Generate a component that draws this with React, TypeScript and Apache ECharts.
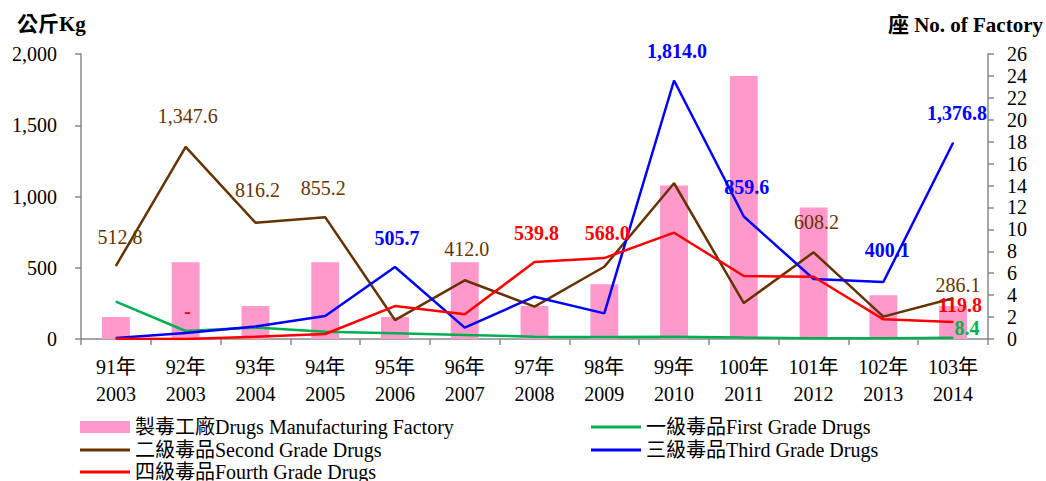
import React, { useEffect, useRef } from "react";
import * as echarts from "echarts";

const categories = ["91年\n2003", "92年\n2003", "93年\n2004", "94年\n2005", "95年\n2006", "96年\n2007", "97年\n2008", "98年\n2009", "99年\n2010", "100年\n2011", "101年\n2012", "102年\n2013", "103年\n2014"];
const factories = [2, 7, 3, 7, 2, 7, 3, 5, 14, 24, 12, 4, 3];
const firstGrade = [262, 56, 80, 51, 40, 28, 16, 14, 15, 10, 6, 5, 8.4];
const secondGrade = [512.8, 1347.6, 816.2, 855.2, 133, 412.0, 227, 507, 1093, 252, 608.2, 157, 286.1];
const thirdGrade = [7, 42, 87, 161, 505.7, 80, 297, 180, 1814.0, 859.6, 421, 400.1, 1376.8];
const fourthGrade = [1, 0, 16, 35, 231, 173, 539.8, 568.0, 746, 442, 437, 138, 119.8];

const leftTicks = { min: 0, max: 2000, interval: 500 };
const rightTicks = { min: 0, max: 26, interval: 2 };

const names = {
  bar: "製毒工廠Drugs Manufacturing Factory",
  first: "一級毒品First Grade Drugs",
  second: "二級毒品Second Grade Drugs",
  third: "三級毒品Third Grade Drugs",
  fourth: "四級毒品Fourth Grade Drugs",
};

const FONT = '"Liberation Serif", "Times New Roman", "Noto Sans CJK TC", serif';

const fmt = (v: number) =>
  v === 0 ? "-" : v.toLocaleString("en-US", { minimumFractionDigits: 1, maximumFractionDigits: 1 });

// label placements (index -> offset of label centre from point)
const secondLabels: Record<number, number[]> = { 0: [4, -29], 1: [2, -31], 2: [2, -33], 3: [-2, -29], 5: [2, -31], 10: [3, -30], 12: [5, -13] };
const thirdLabels: Record<number, number[]> = { 4: [2, -29], 8: [3, -30], 9: [3, -30], 11: [4, -32], 12: [4, -30] };
const fourthLabels: Record<number, number[]> = { 1: [2, -28], 6: [2, -29], 7: [3, -25], 12: [7, -17] };
const firstLabels: Record<number, number[]> = { 12: [14, -10] };

function buildData(values: number[], labels: Record<number, number[]>, color: string, bold: boolean) {
  return values.map((v, i) => {
    const off = labels[i];
    if (!off) return { value: v };
    return {
      value: v,
      label: {
        show: true,
        position: "inside",
        offset: off,
        formatter: () => fmt(v),
        color,
        fontSize: 20,
        fontFamily: FONT,
        fontWeight: bold ? "bold" : "normal",
      },
    };
  });
}

function lineSeries(name: string, values: number[], labels: Record<number, number[]>, color: string, bold: boolean) {
  return {
    name,
    type: "line",
    yAxisIndex: 0,
    data: buildData(values, labels, color, bold),
    symbol: "circle",
    symbolSize: 1,
    showSymbol: true,
    itemStyle: { color },
    lineStyle: { color, width: 2.5 },
    label: { show: false },
    z: 3,
  };
}

function legendItem(name: string, left: number, top: number, isBar: boolean) {
  return {
    data: [{ name, icon: "rect" }],
    left,
    top,
    itemWidth: 50,
    itemHeight: isBar ? 12 : 3,
    itemGap: 0,
    textStyle: { color: "#000", fontSize: 20, fontFamily: FONT },
    selectedMode: false,
  };
}

export default function App() {
  const ref = useRef<HTMLDivElement>(null);
  useEffect(() => {
    if (!ref.current) return;
    const chart = echarts.init(ref.current, null, { renderer: "svg" });
    const axisLine = { show: true, lineStyle: { color: "#888", width: 1.5 } };
    chart.setOption({
      animation: false,
      backgroundColor: "#fff",
      grid: { left: 81, right: 58, top: 54, bottom: 142, containLabel: false },
      legend: [
        legendItem(names.bar, 75, 412, true),
        legendItem(names.first, 586, 412, false),
        legendItem(names.second, 75, 435, false),
        legendItem(names.third, 586, 435, false),
        legendItem(names.fourth, 75, 457, false),
      ],
      graphic: [
        { type: "text", left: 17, top: 13, style: { text: "公斤Kg", font: `bold 21px ${FONT}`, fill: "#000" } },
        { type: "text", right: 3, top: 14, style: { text: "座 No. of Factory", font: `bold 21px ${FONT}`, fill: "#000" } },
      ],
      xAxis: {
        type: "category",
        data: categories,
        boundaryGap: true,
        axisLine,
        axisTick: { show: true, length: 6, alignWithLabel: false, lineStyle: { color: "#888", width: 1.5 } },
        axisLabel: { color: "#000", fontSize: 20, fontFamily: FONT, lineHeight: 27, margin: 14, interval: 0 },
        splitLine: { show: false },
      },
      yAxis: [
        {
          type: "value",
          ...leftTicks,
          position: "left",
          axisLine,
          axisTick: { show: true, length: 6, lineStyle: { color: "#888", width: 1.5 } },
          axisLabel: { color: "#000", fontSize: 20, fontFamily: FONT, margin: 24, formatter: (v: number) => v.toLocaleString("en-US") },
          splitLine: { show: false },
        },
        {
          type: "value",
          ...rightTicks,
          position: "right",
          axisLine,
          axisTick: { show: true, length: 6, lineStyle: { color: "#888", width: 1.5 } },
          axisLabel: { color: "#000", fontSize: 20, fontFamily: FONT, margin: 19 },
          splitLine: { show: false },
        },
      ],
      series: [
        {
          name: names.bar,
          type: "bar",
          yAxisIndex: 1,
          data: factories,
          barWidth: "40%",
          itemStyle: { color: "#FF99CC" },
          z: 1,
        },
        lineSeries(names.first, firstGrade, firstLabels, "#00B050", true),
        lineSeries(names.second, secondGrade, secondLabels, "#663300", false),
        lineSeries(names.third, thirdGrade, thirdLabels, "#0000FF", true),
        lineSeries(names.fourth, fourthGrade, fourthLabels, "#FF0000", true),
      ],
    });
    return () => chart.dispose();
  }, []);
  return <div ref={ref} style={{ position: "fixed", left: 0, top: 0, width: 1046, height: 481 }} />;
}
